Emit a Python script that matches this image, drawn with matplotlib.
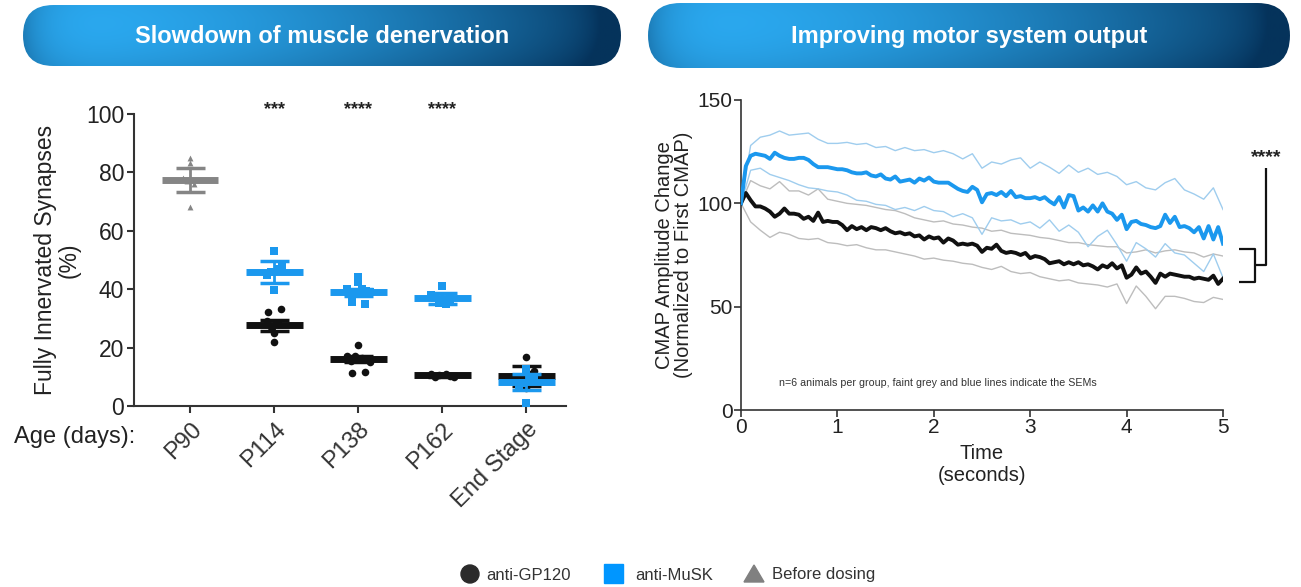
import numpy as np
import matplotlib
matplotlib.use("Agg")
import matplotlib.pyplot as plt
from matplotlib.patches import FancyBboxPatch, Rectangle, Circle, Polygon

plt.rcParams['font.family'] = ['Liberation Sans', 'DejaVu Sans']

# ---------------- data: left panel ----------------
categories = ["P90", "P114", "P138", "P162", "End Stage"]
stars_left = ["", "***", "****", "****", ""]

before_mean = 77.4
before_sem = 4.0
before_pts = [84.8, 83.1, 68.3, 77.0, 76.0, 78.0]

musk_mean = [None, 46.0, 39.0, 36.9, 8.1]
musk_sem = [None, 3.8, 1.2, 1.8, 2.7]
musk_pts = [[],
            [53.1, 39.7, 46.0, 47.0, 45.0, 48.0],
            [44.3, 42.6, 35.5, 34.9, 39.0, 40.0, 38.5, 39.5, 40.0, 39.0],
            [41.1, 35.2, 34.9, 37.0, 36.5, 38.0],
            [0.9, 12.6, 8.0, 9.0, 7.0, 10.0]]

gp_mean = [None, 27.6, 16.0, 10.5, 10.3]
gp_sem = [None, 1.8, 1.0, 0.6, 3.5]
gp_pts = [[],
          [32.3, 33.1, 22.0, 25.1, 27.0, 28.0, 29.0],
          [20.9, 11.2, 11.8, 17.0, 16.5, 15.5, 16.0, 17.0, 15.0],
          [10.5, 11.0, 10.0, 10.3, 10.8, 9.8],
          [16.9, 10.0, 11.0, 8.0, 6.0, 12.0]]

# ---------------- data: right panel ----------------
t_mean = np.round(np.arange(0, 5.0001, 0.05), 2)
musk_cmap = [100, 118, 123, 124, 123.5, 123, 121.5, 124.5, 123, 122,
             121.5, 121.5, 122, 122, 121, 119, 117.5, 117.5, 117.5, 117,
             116.5, 116.5, 116, 115, 114.5, 114.5, 115, 113.5, 113, 114,
             112, 111.5, 113, 110.5, 111, 111.5, 110, 112, 111, 112.5,
             110.5, 110, 110, 110, 108.5, 107, 106, 105.5, 108, 106.5,
             100.5, 104.5, 105, 104, 105.5, 103.5, 106, 103, 103.5, 102.5,
             102.5, 103, 102, 103, 101, 99.5, 103, 98, 104, 103.5,
             96.5, 98, 96, 99, 96, 100, 96, 95, 92, 94.5,
             87.5, 91, 91.5, 90, 89.5, 88.5, 88, 89, 94.5, 90.5,
             93.5, 88.5, 89, 88, 86, 88.5, 83, 89, 82.5, 88.5,
             80.5]
gp_cmap = [100, 105, 101.5, 98.5, 98.5, 97.5, 96, 93.5, 95, 97.5,
           95, 95, 94.5, 92.5, 93.5, 91.5, 95.5, 91, 91.5, 91,
           91, 89.5, 87, 89, 87.5, 88.5, 87, 88.5, 88, 87,
           88, 86.5, 85.5, 86, 85, 85.5, 84, 84.5, 82.5, 84,
           83, 83.5, 81, 83, 82, 80, 80.5, 80, 80.5, 79.5,
           76.5, 78.5, 78, 80, 77, 76, 76.5, 76, 75, 76,
           73.5, 74.5, 74, 73, 71, 71.5, 72, 70.5, 71.5, 70.5,
           71.5, 70, 70.5, 69.5, 68, 70, 69, 71, 68.5, 70,
           64, 65.5, 69, 66, 67, 64.5, 61.5, 66, 64.5, 66,
           65.5, 65, 64.5, 64.5, 63.5, 64, 63.5, 63, 65, 61,
           63.5]

t_sem = np.round(np.arange(0, 5.0001, 0.1), 1)
musk_upper = [100, 128, 132, 133, 135, 133, 133.5, 134, 131, 129,
              129, 129.5, 128.5, 129, 127, 127.5, 125.5, 127, 125.5, 126,
              124.5, 125.5, 124, 121.5, 124, 117, 120, 119, 121, 122,
              117, 120, 117.5, 114.5, 118.5, 115, 117, 114, 115, 113,
              109, 110.5, 107.5, 106.5, 110, 112, 106.5, 104.5, 102, 107.5,
              97]
musk_lower = [100, 116, 117, 114, 112.5, 111, 109, 107.5, 107, 106,
              105.5, 104, 101.5, 101, 99.5, 99, 97, 98, 96.5, 98.5,
              96.5, 96, 93.5, 95, 93, 85, 93, 91.5, 92, 90,
              91, 88, 92, 86.5, 89.5, 86, 79, 84, 87, 80,
              72, 81, 78, 74, 80.5, 76, 75, 71, 67, 75.5,
              64]
gp_upper = [100, 111, 108.5, 107, 110.5, 106, 106, 104, 107, 102,
            101, 100, 99.5, 99, 98, 97, 96.5, 95, 93, 92,
            91, 91.5, 90, 89.5, 88.5, 88, 86.5, 87, 85.5, 85,
            84.5, 83.5, 83, 82, 81, 81, 80, 79.5, 79, 79,
            76, 76.5, 77.5, 76, 77, 77.5, 76.5, 76, 74, 75.5,
            74.5]
gp_lower = [100, 91, 87, 83.5, 86, 85, 83, 82.5, 83, 81,
            80.5, 79.5, 80, 78.5, 77.5, 77.5, 76.5, 75.5, 74.5, 73,
            73.5, 72.5, 72, 71, 70.5, 69, 68, 69.5, 67, 66,
            66.5, 64.5, 63.5, 62.5, 63, 61.5, 61, 60.5, 59.5, 61,
            51.5, 60, 55, 49, 55, 55, 54, 52.5, 52, 54.5,
            53.5]

# ---------------- styles ----------------
BLUE = "#1b98ee"
BLACK = "#111111"
GREY = "#858585"
BLUE_SEM = "#9fcdee"
GREY_SEM = "#bdbdbd"
AXC = "#333333"

W, H = 1301, 587
fig = plt.figure(figsize=(W / 100, H / 100), dpi=100)


def px_axes(l, t, r, b):
    return fig.add_axes([l / W, 1 - b / H, (r - l) / W, (b - t) / H])


# ---------------- overlay (banners, legend) ----------------
ov = fig.add_axes([0, 0, 1, 1], zorder=-1)
ov.set_xlim(0, W)
ov.set_ylim(H, 0)
ov.axis("off")


def banner(x0, y0, x1, y1, text):
    h = y1 - y0
    patch = FancyBboxPatch((x0 + h / 2, y0 + h / 2), (x1 - x0) - h, 0.01,
                           boxstyle="round,pad=%f,rounding_size=%f" % (h / 2 - 0.01, h / 2),
                           transform=ov.transData,
                           facecolor="none", edgecolor="none")
    ov.add_patch(patch)
    nx, ny = 300, 60
    xx = np.linspace(0, 1, nx)[None, :]
    yy = np.linspace(0, 1, ny)[:, None]
    light = np.array([0.17, 0.67, 0.95])
    dark = np.array([0.02, 0.20, 0.36])
    f = 0.02 + 0.9 * np.clip((xx - 0.1) / 0.9, 0, 1) ** 1.6
    f = f + 0.25 * (yy - 0.3) ** 2
    edge = np.clip(np.abs(xx - 0.5) * 2, 0, 1)
    f = f + edge ** 14 * 0.35
    f = np.clip(f, 0, 1)
    img = light[None, None, :] * (1 - f[..., None]) + dark[None, None, :] * f[..., None]
    im = ov.imshow(img, extent=(x0, x1, y1, y0), aspect="auto", zorder=1,
                   interpolation="bilinear")
    im.set_clip_path(patch)
    ov.text((x0 + x1) / 2, (y0 + y1) / 2 + 1, text, color="white",
            fontsize=17, fontweight="bold", ha="center", va="center", zorder=2)


banner(23, 5, 621, 66, "Slowdown of muscle denervation")
banner(648, 3, 1290, 68, "Improving motor system output")

# legend
ly = 574
ov.add_patch(Circle((470, ly), 9, color="#2b2b2b", zorder=3))
ov.text(486, ly + 1, "anti-GP120", fontsize=12, color="#333333", va="center", ha="left")
ov.add_patch(Rectangle((604, ly - 10), 19, 19, color="#0096ff", zorder=3))
ov.text(635, ly + 1, "anti-MuSK", fontsize=12, color="#333333", va="center", ha="left")
ov.add_patch(Polygon([[744, ly + 8], [764, ly + 8], [754, ly - 9]], closed=True,
                     color="#808080", zorder=3))
ov.text(772, ly + 1, "Before dosing", fontsize=12, color="#333333", va="center", ha="left")

# ---------------- left panel ----------------
axL = px_axes(134, 114, 566, 406)
xs = np.arange(len(categories))


def offsets(vals, center):
    vals = np.asarray(vals, dtype=float)
    off = np.zeros(len(vals))
    near = np.abs(vals - center) < 2.5
    k = 0
    for i in np.where(near)[0]:
        k += 1
        off[i] = ((-1) ** k) * 0.045 * ((k + 1) // 2)
    far_idx = np.where(~near)[0]
    for i in far_idx:
        same = [m for m in far_idx if m != i and abs(vals[m] - vals[i]) < 1.5]
        if same:
            off[i] = -0.08 if i < min(same) else 0.08
    return off


def mean_sem(ax, x, m, s, color, z):
    ax.plot([x - 0.335, x + 0.335], [m, m], color=color, lw=5, solid_capstyle="butt", zorder=z)
    ax.plot([x, x], [m - s, m + s], color=color, lw=2, zorder=z)
    for yv in (m - s, m + s):
        ax.plot([x - 0.17, x + 0.17], [yv, yv], color=color, lw=2.5,
                solid_capstyle="butt", zorder=z)


off = offsets(before_pts, before_mean)
axL.scatter(xs[0] + off, before_pts, marker="^", s=18, color=GREY, zorder=3, linewidths=0)
mean_sem(axL, xs[0], before_mean, before_sem, GREY, 4)

for i in range(1, len(categories)):
    off = offsets(gp_pts[i], gp_mean[i])
    axL.scatter(xs[i] + off, gp_pts[i], marker="o", s=30, color=BLACK, zorder=3, linewidths=0)
    mean_sem(axL, xs[i], gp_mean[i], gp_sem[i], BLACK, 4)
    off = offsets(musk_pts[i], musk_mean[i])
    axL.scatter(xs[i] + off, musk_pts[i], marker="s", s=26, color=BLUE, zorder=5, linewidths=0)
    mean_sem(axL, xs[i], musk_mean[i], musk_sem[i], BLUE, 6)
    if stars_left[i]:
        axL.text(xs[i], 101.5, stars_left[i], ha="center", va="center",
                 fontsize=13, fontweight="bold", color="#222222", clip_on=False)

axL.set_xlim(-0.67, 4.47)
axL.set_ylim(0, 100)
axL.set_yticks([0, 20, 40, 60, 80, 100])
axL.set_xticks(xs)
axL.set_xticklabels(categories, rotation=45, ha="right", rotation_mode="anchor",
                    fontsize=17, color="#222222")
axL.tick_params(axis="y", labelsize=16.5, colors=AXC, labelcolor="#222222",
                direction="out", length=5, width=1.5, pad=2)
axL.tick_params(axis="x", colors=AXC, direction="out", length=5, width=1.5, pad=4)
for sp in ("top", "right"):
    axL.spines[sp].set_visible(False)
for sp in ("left", "bottom"):
    axL.spines[sp].set_color(AXC)
    axL.spines[sp].set_linewidth(1.5)
axL.set_ylabel("Fully Innervated Synapses\n(%)", fontsize=16.5, color="#222222",
               linespacing=1.05, labelpad=4)
fig.text(14 / W, 1 - 437 / H, "Age (days):", fontsize=17, color="#222222",
         ha="left", va="center")

# ---------------- right panel ----------------
axR = px_axes(741, 100, 1223, 410)
axR.plot(t_sem, gp_upper, color=GREY_SEM, lw=1, zorder=2)
axR.plot(t_sem, gp_lower, color=GREY_SEM, lw=1, zorder=2)
axR.plot(t_sem, musk_upper, color=BLUE_SEM, lw=1, zorder=2)
axR.plot(t_sem, musk_lower, color=BLUE_SEM, lw=1, zorder=2)
axR.plot(t_mean, gp_cmap, color=BLACK, lw=2.8, zorder=3)
axR.plot(t_mean, musk_cmap, color=BLUE, lw=2.8, zorder=3)

axR.set_xlim(0, 5)
axR.set_ylim(0, 150)
axR.set_xticks([0, 1, 2, 3, 4, 5])
axR.set_yticks([0, 50, 100, 150])
axR.tick_params(labelsize=15, colors=AXC, labelcolor="#222222", direction="out",
                length=5, width=1.2, pad=1)
for sp in ("top", "right"):
    axR.spines[sp].set_visible(False)
for sp in ("left", "bottom"):
    axR.spines[sp].set_color(AXC)
    axR.spines[sp].set_linewidth(1.2)
axR.set_ylabel("CMAP Amplitude Change\n(Normalized to First CMAP)", fontsize=14.5,
               color="#222222", linespacing=1.05, labelpad=3)
axR.set_xlabel("Time\n(seconds)", fontsize=14.5, color="#222222", linespacing=1.15, labelpad=5)
axR.text(0.39, 13, "n=6 animals per group, faint grey and blue lines indicate the SEMs",
         fontsize=7.7, color="#333333", ha="left", va="center")

# significance bracket
br = dict(color="#111111", lw=1.6, clip_on=False, solid_capstyle="butt")
axR.plot([5.17, 5.33, 5.33, 5.17], [78, 78, 62, 62], **br)
axR.plot([5.33, 5.45, 5.45], [70, 70, 117], **br)
axR.text(5.45, 122, "****", ha="center", va="center", fontsize=14,
         fontweight="bold", color="#222222", clip_on=False)

fig.savefig("out.png", dpi=100, facecolor="white")
